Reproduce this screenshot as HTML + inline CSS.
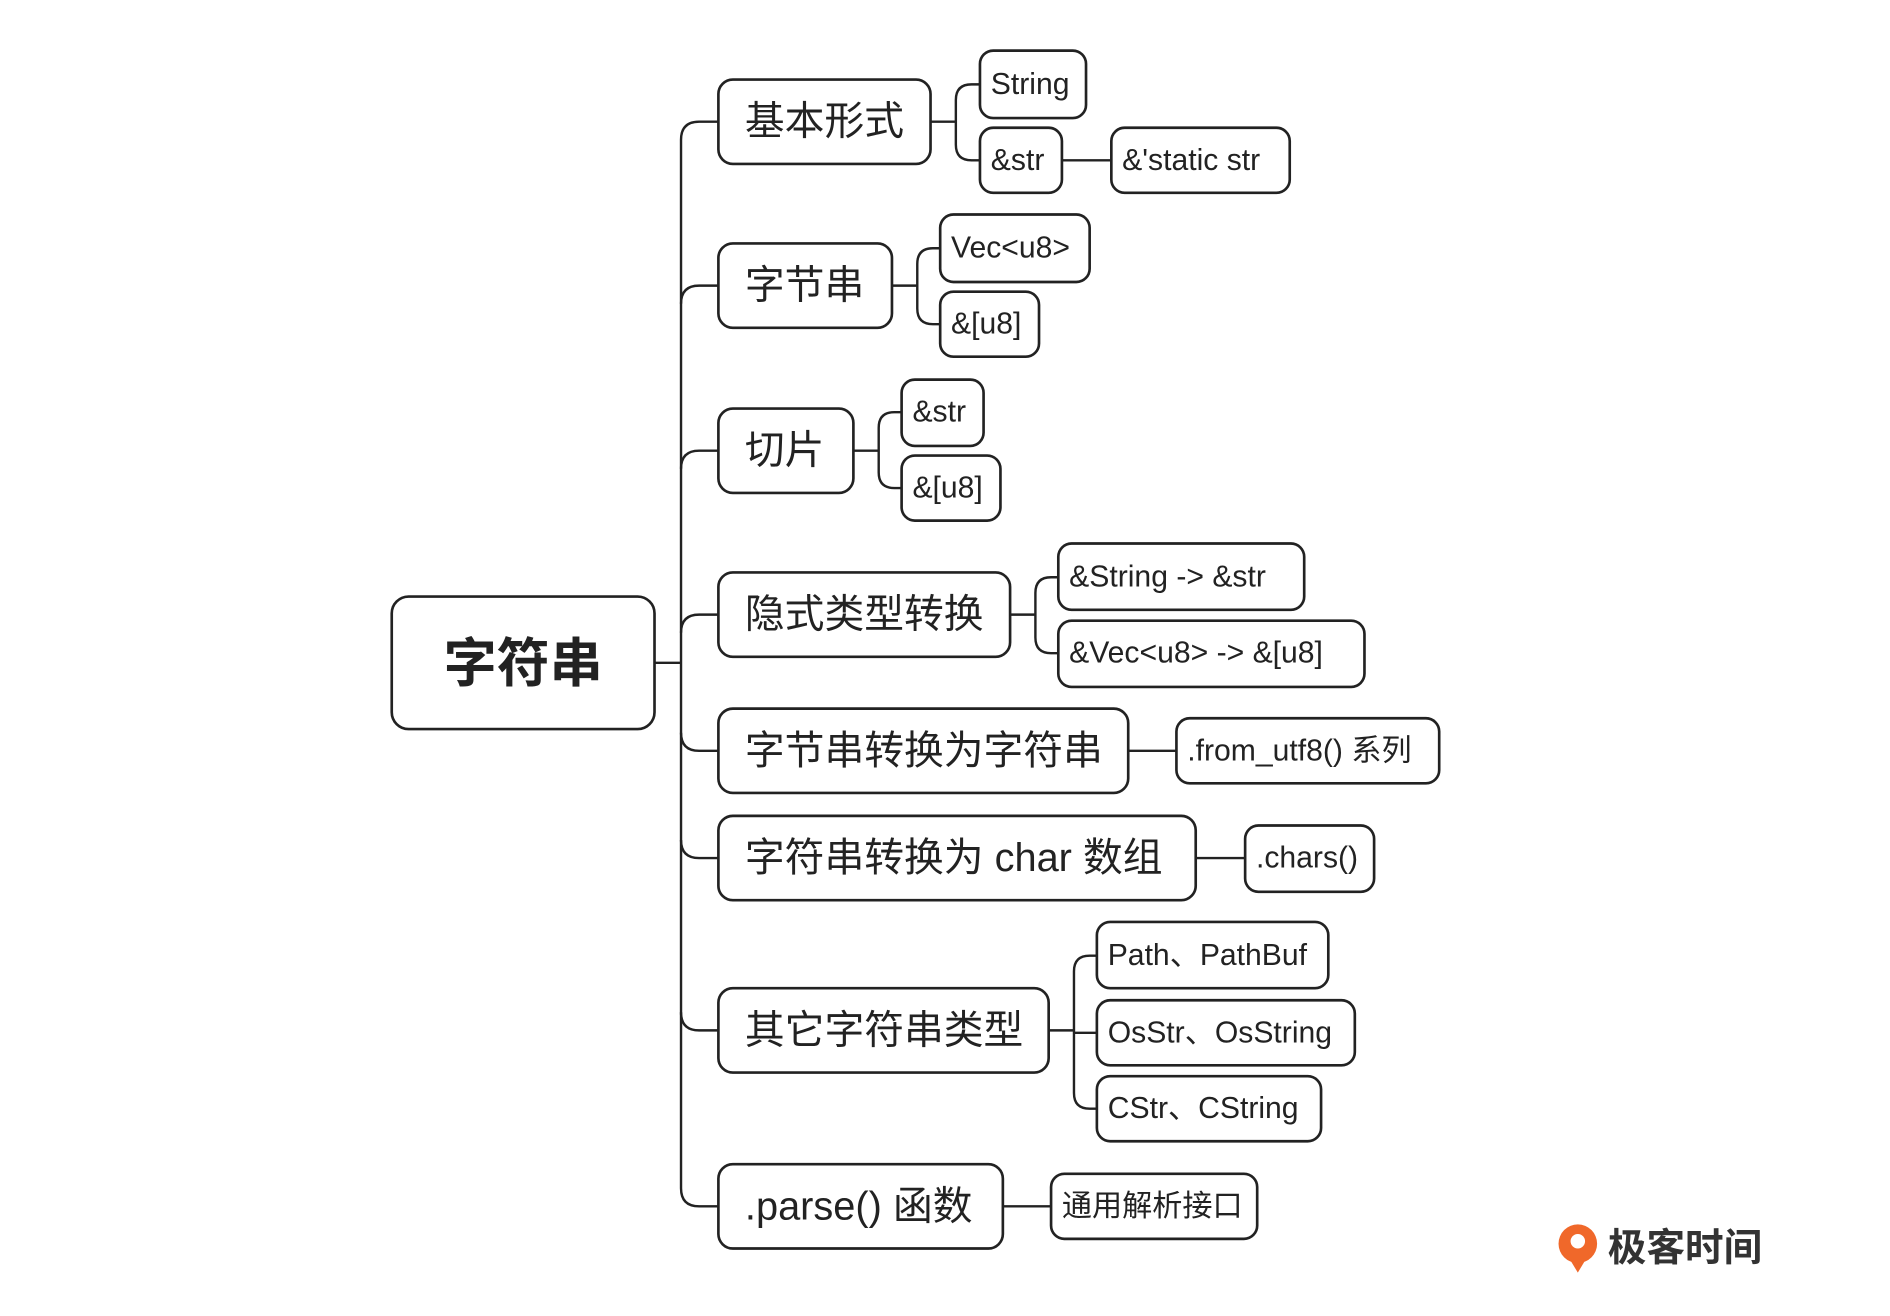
<!DOCTYPE html>
<html><head><meta charset="utf-8"><style>
html,body{margin:0;padding:0;background:#fff;}
svg{display:block;}
text{font-family:"Liberation Sans","Noto Sans CJK SC",sans-serif;fill:#222;dominant-baseline:central;}
.b{fill:#fff;stroke:#222;stroke-width:2.2;}
.l{fill:none;stroke:#222;stroke-width:2;}
</style></head><body>
<svg width="1890" height="1316" viewBox="0 0 1568 1092" preserveAspectRatio="none">
<rect width="1568" height="1092" fill="#fff"/>
<path class="l" d="M543 550 H565"/>
<path class="l" d="M596 101 H580 Q565 101 565 116 V986 Q565 1001 580 1001 H596"/>
<path class="l" d="M565 252 Q565 237 580 237 H596"/>
<path class="l" d="M565 389 Q565 374 580 374 H596"/>
<path class="l" d="M565 525 Q565 510 580 510 H596"/>
<path class="l" d="M565 608 Q565 623 580 623 H596"/>
<path class="l" d="M565 697 Q565 712 580 712 H596"/>
<path class="l" d="M565 840 Q565 855 580 855 H596"/>
<rect class="b" x="325" y="495" width="218" height="110" rx="14"/>
<text x="434" y="551" font-size="44" font-weight="bold" text-anchor="middle">字符串</text>
<g font-size="33">
<rect class="b" x="596" y="66" width="176" height="70" rx="12"/><text x="618" y="101">基本形式</text>
<rect class="b" x="596" y="202" width="144" height="70" rx="12"/><text x="618" y="237">字节串</text>
<rect class="b" x="596" y="339" width="112" height="70" rx="12"/><text x="618" y="374">切片</text>
<rect class="b" x="596" y="475" width="242" height="70" rx="12"/><text x="618" y="510">隐式类型转换</text>
<rect class="b" x="596" y="588" width="340" height="70" rx="12"/><text x="618" y="623">字节串转换为字符串</text>
<rect class="b" x="596" y="677" width="396" height="70" rx="12"/><text x="618" y="712">字符串转换为 char 数组</text>
<rect class="b" x="596" y="820" width="274" height="70" rx="12"/><text x="618" y="855">其它字符串类型</text>
<rect class="b" x="596" y="966" width="236" height="70" rx="12"/><text x="618" y="1001">.parse() 函数</text>
</g>
<path class="l" d="M772 101 H793 M813 70 H806 Q793 70 793 83 V120 Q793 133 806 133 H813"/>
<path class="l" d="M881 133 H922"/>
<path class="l" d="M740 237 H761 M780 206 H774 Q761 206 761 219 V256 Q761 269 774 269 H780"/>
<path class="l" d="M708 374 H729 M748 342 H742 Q729 342 729 355 V392 Q729 405 742 405 H748"/>
<path class="l" d="M838 510 H859 M878 479 H872 Q859 479 859 492 V529 Q859 542 872 542 H878"/>
<path class="l" d="M936 623 H976"/>
<path class="l" d="M992 712 H1033"/>
<path class="l" d="M870 855 H891 M910 793 H904 Q891 793 891 806 V907 Q891 920 904 920 H910 M891 857 H910"/>
<path class="l" d="M832 1001 H872"/>
<g font-size="25">
<rect class="b" x="813" y="42" width="88" height="56" rx="11"/><text x="822" y="70">String</text>
<rect class="b" x="813" y="106" width="68" height="54" rx="11"/><text x="822" y="133">&amp;str</text>
<rect class="b" x="922" y="106" width="148" height="54" rx="11"/><text x="931" y="133">&amp;'static str</text>
<rect class="b" x="780" y="178" width="124" height="56" rx="11"/><text x="789" y="206">Vec&lt;u8&gt;</text>
<rect class="b" x="780" y="242" width="82" height="54" rx="11"/><text x="789" y="269">&amp;[u8]</text>
<rect class="b" x="748" y="315" width="68" height="55" rx="11"/><text x="757" y="342">&amp;str</text>
<rect class="b" x="748" y="378" width="82" height="54" rx="11"/><text x="757" y="405">&amp;[u8]</text>
<rect class="b" x="878" y="451" width="204" height="55" rx="11"/><text x="887" y="479">&amp;String -&gt; &amp;str</text>
<rect class="b" x="878" y="515" width="254" height="55" rx="11"/><text x="887" y="542">&amp;Vec&lt;u8&gt; -&gt; &amp;[u8]</text>
<rect class="b" x="976" y="596" width="218" height="54" rx="11"/><text x="985" y="623">.from_utf8() 系列</text>
<rect class="b" x="1033" y="685" width="107" height="55" rx="11"/><text x="1042" y="712">.chars()</text>
<rect class="b" x="910" y="765" width="192" height="55" rx="11"/><text x="919" y="793">Path、PathBuf</text>
<rect class="b" x="910" y="830" width="214" height="54" rx="11"/><text x="919" y="857">OsStr、OsString</text>
<rect class="b" x="910" y="893" width="186" height="54" rx="11"/><text x="919" y="920">CStr、CString</text>
<rect class="b" x="872" y="974" width="171" height="54" rx="11"/><text x="881" y="1001">通用解析接口</text>
</g>
<circle cx="1309" cy="1032" r="16" fill="#f0682a"/>
<circle cx="1309" cy="1030" r="6" fill="#fff"/>
<path d="M1303 1046 L1309 1056 L1315 1046 Z" fill="#f0682a"/>
<text x="1334" y="1036" font-size="32" font-weight="bold" style="fill:#333">极客时间</text>
</svg>
</body></html>
